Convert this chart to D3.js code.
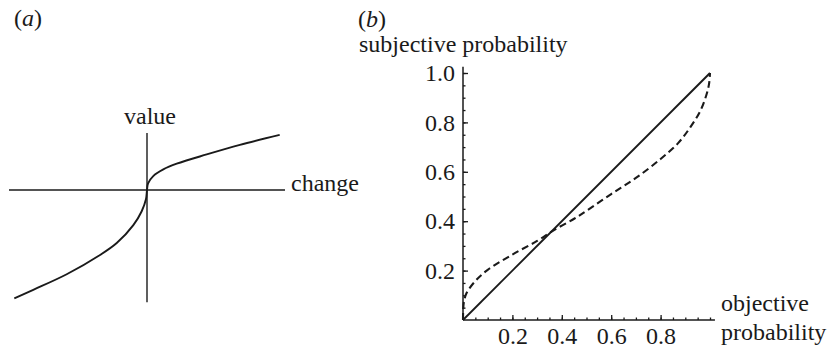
<!DOCTYPE html>
<html>
<head>
<meta charset="utf-8">
<script src="https://cdn.jsdelivr.net/npm/d3@7"></script>
<style>
  body { margin: 0; background: #fff; }
  svg { display: block; }
  text { font-family: "Liberation Serif", "Times New Roman", serif; fill: #1a1a1a; }
</style>
</head>
<body>
<div id="chart"></div>
<script>
// (a) value function: [change, value]
const valueLosses = [[-1.0, -0.816], [-0.857, -0.752], [-0.605, -0.635], [-0.354, -0.49],
  [-0.228, -0.40], [-0.103, -0.265], [-0.04, -0.16], [-0.008, -0.07], [0, 0]];
const valueGains = [[0, 0], [0.008, 0.05], [0.047, 0.105], [0.123, 0.155], [0.224, 0.198],
  [0.45, 0.268], [0.70, 0.34], [1.0, 0.415]];

// (b) objective vs subjective probability
const identityLine = [[0, 0], [1, 1]];
const weighting = [[0, 0], [0.001, 0.045], [0.004, 0.075], [0.015, 0.11], [0.05, 0.158],
  [0.1, 0.203], [0.2, 0.265], [0.3, 0.32], [0.37, 0.365], [0.45, 0.41], [0.5, 0.442],
  [0.6, 0.51], [0.7, 0.575], [0.8, 0.652], [0.87, 0.715], [0.92, 0.78], [0.96, 0.845],
  [0.985, 0.91], [0.996, 0.955], [1, 1]];

const xMajor = [0.2, 0.4, 0.6, 0.8];
const yMajor = [0.2, 0.4, 0.6, 0.8, 1.0];
const minorTicks = d3.range(1, 21).map(i => i * 0.05);

const width = 828, height = 349;
const fontSize = 24;
const ink = '#1a1a1a';

const svg = d3.select('#chart').append('svg')
  .attr('width', width)
  .attr('height', height);

// ---- panel (a)
const xa = d3.scaleLinear().domain([-1, 1]).range([147 - 132.7, 147 + 132.7]);
const ya = d3.scaleLinear().domain([-1, 1]).range([190 + 132.7, 190 - 132.7]);

const ga = svg.append('g');
ga.append('line')
  .attr('x1', xa(-1.04)).attr('x2', xa(1.04))
  .attr('y1', ya(0)).attr('y2', ya(0))
  .attr('stroke', ink).attr('stroke-width', 1.4);
ga.append('line')
  .attr('x1', xa(0)).attr('x2', xa(0))
  .attr('y1', ya(0.43)).attr('y2', ya(-0.845))
  .attr('stroke', ink).attr('stroke-width', 1.4);

const lineA = d3.line()
  .x(d => xa(d[0]))
  .y(d => ya(d[1]))
  .curve(d3.curveCatmullRom.alpha(0.5));

ga.append('path')
  .datum(valueLosses.concat(valueGains.slice(1)))
  .attr('d', lineA)
  .attr('fill', 'none')
  .attr('stroke', ink)
  .attr('stroke-width', 1.9);

ga.append('text').attr('x', 14).attr('y', 26).attr('font-size', fontSize)
  .html('(<tspan font-style="italic">a</tspan>)');
ga.append('text').attr('x', 150).attr('y', 124).attr('font-size', fontSize)
  .attr('text-anchor', 'middle').text('value');
ga.append('text').attr('x', 291).attr('y', 191).attr('font-size', fontSize)
  .text('change');

// ---- panel (b)
const xb = d3.scaleLinear().domain([0, 1]).range([463, 710]);
const yb = d3.scaleLinear().domain([0, 1]).range([320, 73]);

const gb = svg.append('g');

// minor ticks
gb.append('g')
  .attr('transform', `translate(0,${yb(0)})`)
  .call(d3.axisBottom(xb).tickValues(minorTicks).tickSize(-2.5).tickFormat(''))
  .call(g => g.select('.domain').remove());
gb.append('g')
  .attr('transform', `translate(${xb(0)},0)`)
  .call(d3.axisLeft(yb).tickValues(minorTicks).tickSize(-2.5).tickFormat(''))
  .call(g => g.select('.domain').remove());

// major ticks + labels
const xAxis = gb.append('g')
  .attr('transform', `translate(0,${yb(0)})`)
  .call(d3.axisBottom(xb).tickValues(xMajor).tickSize(-5).tickPadding(7)
    .tickFormat(d3.format('.1f')))
  .call(g => g.select('.domain').remove());
const yAxis = gb.append('g')
  .attr('transform', `translate(${xb(0)},0)`)
  .call(d3.axisLeft(yb).tickValues(yMajor).tickSize(-5).tickPadding(8)
    .tickFormat(d3.format('.1f')))
  .call(g => g.select('.domain').remove());

[xAxis, yAxis].forEach(ax => {
  ax.selectAll('text')
    .attr('font-size', fontSize)
    .attr('font-family', '"Liberation Serif", "Times New Roman", serif')
    .attr('fill', ink);
});
gb.selectAll('.tick line').attr('stroke', ink).attr('stroke-width', 1.3);

// axis lines
gb.append('line')
  .attr('x1', xb(0)).attr('x2', xb(1.02))
  .attr('y1', yb(0)).attr('y2', yb(0))
  .attr('stroke', ink).attr('stroke-width', 1.5);
gb.append('line')
  .attr('x1', xb(0)).attr('x2', xb(0))
  .attr('y1', yb(0)).attr('y2', yb(1.025))
  .attr('stroke', ink).attr('stroke-width', 1.5);

const lineB = d3.line()
  .x(d => xb(d[0]))
  .y(d => yb(d[1]));

gb.append('path')
  .datum(identityLine)
  .attr('d', lineB)
  .attr('fill', 'none')
  .attr('stroke', ink)
  .attr('stroke-width', 1.9);

gb.append('path')
  .datum(weighting)
  .attr('d', lineB.curve(d3.curveCatmullRom.alpha(0.5)))
  .attr('fill', 'none')
  .attr('stroke', ink)
  .attr('stroke-width', 2.1)
  .attr('stroke-dasharray', '7,4');

gb.append('text').attr('x', 358).attr('y', 27).attr('font-size', fontSize)
  .html('(<tspan font-style="italic">b</tspan>)');
gb.append('text').attr('x', 359).attr('y', 52).attr('font-size', fontSize)
  .text('subjective probability');
gb.append('text').attr('x', 721).attr('y', 311).attr('font-size', fontSize)
  .text('objective');
gb.append('text').attr('x', 721).attr('y', 340).attr('font-size', fontSize)
  .text('probability');
</script>
</body>
</html>
